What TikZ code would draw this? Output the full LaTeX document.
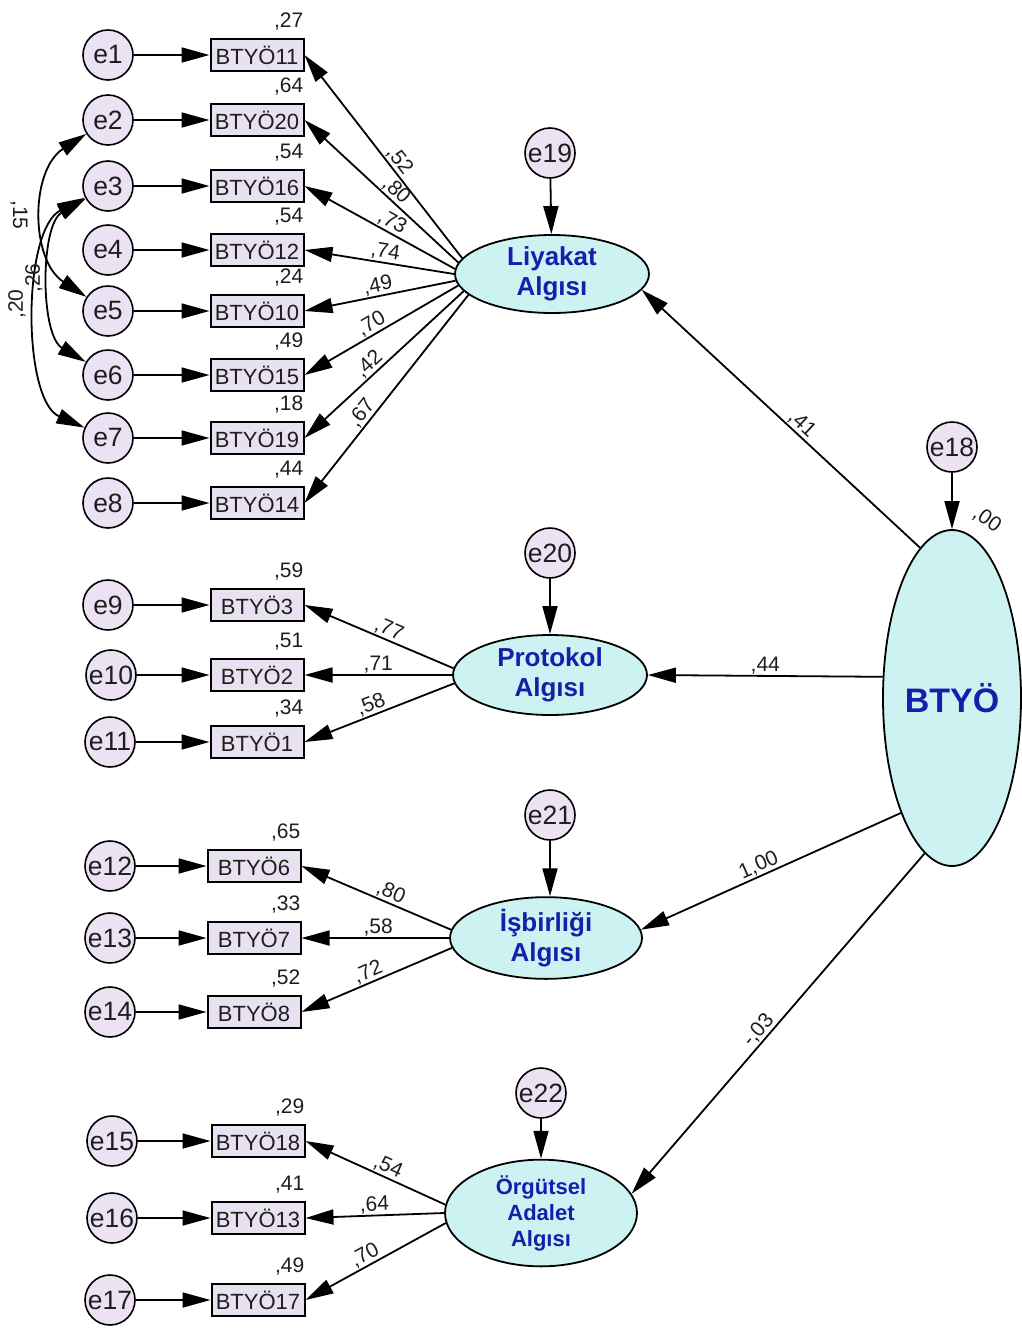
\documentclass[tikz,border=0pt]{standalone}
\usepackage{fontspec}
\setmainfont{Liberation Sans}
\usetikzlibrary{arrows.meta,shapes.geometric}
\definecolor{errfill}{RGB}{236,226,243}
\definecolor{boxfill}{RGB}{232,226,240}
\definecolor{latfill}{RGB}{204,242,242}
\definecolor{latblue}{RGB}{22,30,170}
\definecolor{valgray}{RGB}{30,30,30}
\begin{document}
\begin{tikzpicture}[x=1pt,y=1pt,
  err/.style={circle, draw, line width=1.6pt, fill=errfill, minimum size=50pt, inner sep=0pt, text=valgray, font=\fontsize{26.5}{28}\selectfont},
  obs/.style={rectangle, draw, line width=2pt, fill=boxfill, minimum width=93pt, minimum height=32pt, inner sep=0pt, text=valgray, font=\fontsize{22}{24}\selectfont},
  lat/.style={ellipse, draw, line width=1.8pt, fill=latfill, minimum width=194pt, minimum height=78pt, inner sep=0pt, align=center, text=latblue, font=\bfseries\fontsize{26}{30}\selectfont},
  arr/.style={line width=1.8pt, -{Triangle[length=28pt,width=15pt]}},
  cov/.style={line width=1.8pt, {Triangle[length=28pt,width=15pt]}-{Triangle[length=28pt,width=15pt]}},
  val/.style={font=\fontsize{21}{24}\selectfont, text=valgray, inner sep=1pt},
  rsq/.style={font=\fontsize{21}{24}\selectfont, text=valgray, inner sep=0pt, anchor=base east}
]
\fill[white] (0,0) rectangle (1021,-1328);
\useasboundingbox (0,0) rectangle (1021,-1328);

% ---------- latent variables ----------
\node[lat] (liy) at (552,-274) {Liyakat\\Algısı};
\node[lat, minimum height=80pt] (prot) at (550,-675) {Protokol\\Algısı};
\node[lat, minimum width=192pt, minimum height=80pt] (isb) at (546,-938) {İşbirliği\\Algısı};
\node[lat, minimum width=192pt, minimum height=80pt, font=\bfseries\fontsize{22}{26}\selectfont] (org) at (541,-1213) {Örgütsel\\Adalet\\Algısı};
\node[lat, minimum width=138pt, minimum height=336pt, font=\bfseries\fontsize{34}{40}\selectfont] (btyo) at (952,-698) {BTYÖ};

% ---------- disturbances ----------
\node[err] (e19) at (550,-153) {e19};
\node[err] (e20) at (550,-553) {e20};
\node[err] (e21) at (550,-815) {e21};
\node[err] (e22) at (541,-1093) {e22};
\node[err] (e18) at (952,-447) {e18};
\draw[arr] (e19) -- (liy);
\draw[arr] (e20) -- (prot);
\draw[arr] (e21.south) -- (e21.south |- isb.north);
\draw[arr] (e22) -- (org);
\draw[arr] (e18) -- (btyo);
\node[val, rotate=-35] (r18) at (987,-520) {,00};

% ---------- Liyakat indicators ----------
\node[obs] (b11) at (257,-55) {BTYÖ11};
\node[obs] (b20) at (257,-120) {BTYÖ20};
\node[obs] (b16) at (257,-186) {BTYÖ16};
\node[obs] (b12) at (257,-250) {BTYÖ12};
\node[obs] (b10) at (257,-311) {BTYÖ10};
\node[obs] (b15) at (257,-375) {BTYÖ15};
\node[obs] (b19) at (257,-438) {BTYÖ19};
\node[obs] (b14) at (257,-503) {BTYÖ14};
\node[err] (e1) at (108,-55) {e1};
\node[err] (e2) at (108,-120) {e2};
\node[err] (e3) at (108,-186) {e3};
\node[err] (e4) at (108,-250) {e4};
\node[err] (e5) at (108,-311) {e5};
\node[err] (e6) at (108,-375) {e6};
\node[err] (e7) at (108,-438) {e7};
\node[err] (e8) at (108,-503) {e8};
\draw[arr] (e1) -- (b11);
\draw[arr] (e2) -- (b20);
\draw[arr] (e3) -- (b16);
\draw[arr] (e4) -- (b12);
\draw[arr] (e5) -- (b10);
\draw[arr] (e6) -- (b15);
\draw[arr] (e7) -- (b19);
\draw[arr] (e8) -- (b14);
\node[rsq] (r11) at ([xshift=-1pt,yshift=11pt]b11.north east) {,27};
\node[rsq] (r20) at ([xshift=-1pt,yshift=11pt]b20.north east) {,64};
\node[rsq] (r16) at ([xshift=-1pt,yshift=11pt]b16.north east) {,54};
\node[rsq] (r12) at ([xshift=-1pt,yshift=11pt]b12.north east) {,54};
\node[rsq] (r10) at ([xshift=-1pt,yshift=11pt]b10.north east) {,24};
\node[rsq] (r15) at ([xshift=-1pt,yshift=11pt]b15.north east) {,49};
\node[rsq] (r19) at ([xshift=-1pt,yshift=11pt]b19.north east) {,18};
\node[rsq] (r14) at ([xshift=-1pt,yshift=11pt]b14.north east) {,44};
\draw[arr] (liy.170) -- node[val, sloped, above, pos=.45] (l11) {,52} (b11.east);
\draw[arr] (liy.173.5) -- node[val, sloped, above, pos=.45] (l20) {,80} (b20.east);
\draw[arr] (liy.177) -- node[val, sloped, above, pos=.45] (l16) {,73} (b16.east);
\draw[arr] (liy.180.5) -- node[val, sloped, above, pos=.47] (l12) {,74} (b12.east);
\draw[arr] (liy.184) -- node[val, sloped, above, pos=.5] (l10) {,49} (b10.east);
\draw[arr] (liy.187.5) -- node[val, sloped, above, pos=.53] (l15) {,70} (b15.east);
\draw[arr] (liy.191) -- node[val, sloped, above, pos=.55] (l19) {,42} (b19.east);
\draw[arr] (liy.194) -- node[val, sloped, above, pos=.6] (l14) {,67} (b14.east);

% covariances
\draw[cov] (e2) .. controls (30,-170) and (30,-260) .. (e5);
\draw[cov] (e3) .. controls (40,-225) and (40,-335) .. (e6);
\draw[cov] (e3) .. controls (22,-230) and (22,-400) .. (e7);
\node[val, rotate=-90] (c15) at (19,-215) {,15};
\node[val, rotate=90] (c26) at (34,-278) {,26};
\node[val, rotate=90] (c20) at (17,-304) {,20};

% ---------- Protokol indicators ----------
\node[obs] (b3) at (257,-605) {BTYÖ3};
\node[obs] (b2) at (257,-675) {BTYÖ2};
\node[obs] (b1) at (257,-742) {BTYÖ1};
\node[err] (e9) at (108,-605) {e9};
\node[err] (e10) at (111,-675) {e10};
\node[err] (e11) at (110,-742) {e11};
\draw[arr] (e9) -- (b3);
\draw[arr] (e10) -- (b2);
\draw[arr] (e11) -- (b1);
\node[rsq] (r3) at ([xshift=-1pt,yshift=11pt]b3.north east) {,59};
\node[rsq] (r2) at ([xshift=-1pt,yshift=11pt]b2.north east) {,51};
\node[rsq] (r1) at ([xshift=-1pt,yshift=11pt]b1.north east) {,34};
\draw[arr] (prot.176) -- node[val, sloped, above, pos=.46] (l3) {,77} (b3.east);
\draw[arr] (prot.180) -- node[val, sloped, above, pos=.5] (l2) {,71} (b2.east);
\draw[arr] (prot.185) -- node[val, sloped, above, pos=.53] (l1) {,58} (b1.east);

% ---------- İşbirliği indicators ----------
\node[obs] (b6) at (254,-866) {BTYÖ6};
\node[obs] (b7) at (254,-938) {BTYÖ7};
\node[obs] (b8) at (254,-1012) {BTYÖ8};
\node[err] (e12) at (110,-866) {e12};
\node[err] (e13) at (110,-938) {e13};
\node[err] (e14) at (110,-1012) {e14};
\draw[arr] (e12) -- (b6);
\draw[arr] (e13) -- (b7);
\draw[arr] (e14) -- (b8);
\node[rsq] (r6) at ([xshift=-1pt,yshift=11pt]b6.north east) {,65};
\node[rsq] (r7) at ([xshift=-1pt,yshift=11pt]b7.north east) {,33};
\node[rsq] (r8) at ([xshift=-1pt,yshift=11pt]b8.north east) {,52};
\draw[arr] (isb.175) -- node[val, sloped, above, pos=.43] (l6) {,80} (b6.east);
\draw[arr] (isb.180) -- node[val, sloped, above, pos=.48] (l7) {,58} (b7.east);
\draw[arr] (isb.186) -- node[val, sloped, above, pos=.53] (l8) {,72} (b8.east);

% ---------- Örgütsel indicators ----------
\node[obs] (b18) at (258,-1141) {BTYÖ18};
\node[obs] (b13) at (258,-1218) {BTYÖ13};
\node[obs] (b17) at (258,-1300) {BTYÖ17};
\node[err] (e15) at (112,-1141) {e15};
\node[err] (e16) at (112,-1218) {e16};
\node[err] (e17) at (110,-1300) {e17};
\draw[arr] (e15) -- (b18);
\draw[arr] (e16) -- (b13);
\draw[arr] (e17) -- (b17);
\node[rsq] (r18q) at ([xshift=-1pt,yshift=11pt]b18.north east) {,29};
\node[rsq] (r13) at ([xshift=-1pt,yshift=11pt]b13.north east) {,41};
\node[rsq] (r17) at ([xshift=-1pt,yshift=11pt]b17.north east) {,49};
\draw[arr] (org.175) -- node[val, sloped, above, pos=.44] (l18) {,54} (b18.east);
\draw[arr] (org.180) -- node[val, sloped, above, pos=.5] (l13) {,64} (b13.east);
\draw[arr] (org.186) -- node[val, sloped, above, pos=.54] (l17) {,70} (b17.east);

% ---------- structural paths ----------
\draw[arr] (btyo.102) -- node[val, sloped, above, pos=.45] (p41) {,41} (liy.350);
\draw[arr] (btyo.163) -- node[val, sloped, above, pos=.5] (p44) {,44} (prot.east);
\draw[arr] (btyo.246) -- node[val, sloped, above, pos=.53] (p100) {1,00} (isb.5);
\draw[arr] (btyo.260) -- node[val, sloped, above, pos=.54] (p03) {-,03} (org.12);
\end{tikzpicture}
\end{document}
